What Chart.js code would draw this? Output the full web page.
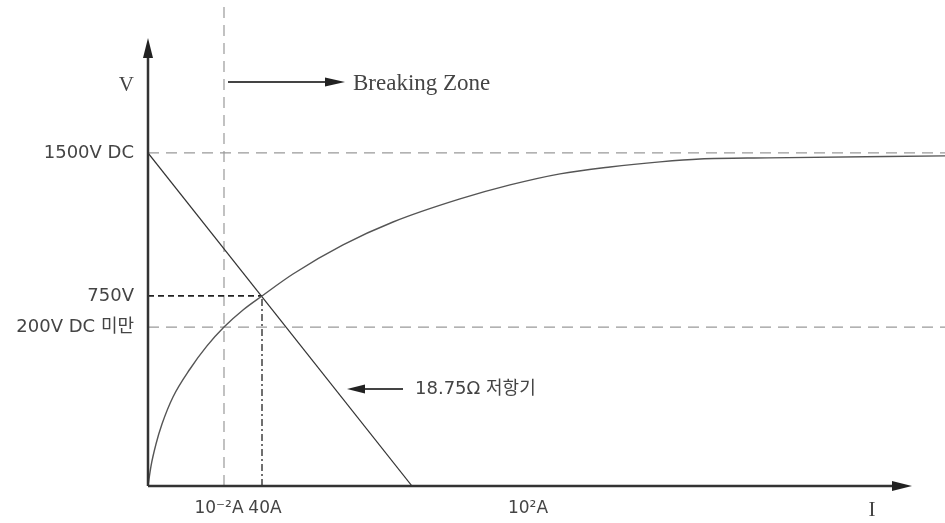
<!DOCTYPE html>
<html><head><meta charset="utf-8">
<script src="https://cdn.jsdelivr.net/npm/chart.js@4/dist/chart.umd.min.js"></script>
<style>html,body{margin:0;padding:0;background:#fff}canvas{display:block}</style>
</head><body>
<canvas id="c" width="945" height="523"></canvas>
<script>
// Schematic V-I diagram (diagram units)
const arcCurrent = [0, 3, 8, 14, 25, 42, 59, 76, 95, 114, 145, 195, 245, 312, 362, 412, 462, 512, 552, 620, 797];
const arcVoltage = [0, 90, 189, 279, 401, 527, 631, 716, 793, 856, 955, 1086, 1189, 1293, 1356, 1406, 1437, 1460, 1473, 1478, 1487];
const resistorCurrent = [0, 264];
const resistorVoltage = [1500, 0];
const yTickValues = [716, 856, 1500, 1802];
const yTickLabels = ['200V DC 미만', '750V', '1500V DC', 'V'];
const xTickValues = [71, 117, 380, 724];
const xTickLabels = ['10⁻²A', '40A', '10²A', 'I'];
const supplyVoltage = 1500, limitVoltage = 716, operVoltage = 856;
const breakCurrent = 76, operCurrent = 114;
const X_MAX = 797, Y_MAX = 2189, X_ARROW = 764, Y_ARROW = 2018;

const pts = (xs, ys) => xs.map((x, i) => ({x, y: ys[i]}));
const sans = 'DejaVu Sans, "Noto Sans CJK KR", sans-serif';
const serif = '"Liberation Serif", "DejaVu Serif", serif';

const annot = {
  id: 'annot',
  afterDatasetsDraw(chart) {
    const {ctx} = chart, xs = chart.scales.x, ys = chart.scales.y;
    const X = v => xs.getPixelForValue(v), Y = v => ys.getPixelForValue(v);
    function head(tx, ty, dx, dy, len, hw) {
      const bx = tx - dx * len, by = ty - dy * len;
      ctx.beginPath();
      ctx.moveTo(tx, ty);
      ctx.lineTo(bx - dy * hw, by + dx * hw);
      ctx.lineTo(bx + dy * hw, by - dx * hw);
      ctx.closePath(); ctx.fill();
    }
    ctx.save();
    ctx.strokeStyle = '#333'; ctx.fillStyle = '#222';
    // axes
    ctx.lineWidth = 2.5;
    ctx.beginPath(); ctx.moveTo(X(0), Y(0)); ctx.lineTo(X(0), Y(Y_ARROW) + 15); ctx.stroke();
    head(X(0), Y(Y_ARROW), 0, -1, 20, 5);
    ctx.beginPath(); ctx.moveTo(X(0), Y(0)); ctx.lineTo(X(X_ARROW) - 15, Y(0)); ctx.stroke();
    head(X(X_ARROW), Y(0), 1, 0, 20, 5);
    // Breaking zone arrow
    ctx.lineWidth = 2; ctx.strokeStyle = '#444';
    const by = Y(1820);
    ctx.beginPath(); ctx.moveTo(X(80), by); ctx.lineTo(X(185), by); ctx.stroke();
    head(X(197), by, 1, 0, 20, 4.5);
    ctx.fillStyle = '#444'; ctx.font = '23px ' + serif;
    ctx.textAlign = 'left'; ctx.textBaseline = 'middle';
    ctx.fillText('Breaking Zone', X(205), Y(1811));
    // Resistor arrow
    ctx.fillStyle = '#222';
    const ry = Y(437);
    ctx.beginPath(); ctx.moveTo(X(255), ry); ctx.lineTo(X(210), ry); ctx.stroke();
    head(X(199), ry, -1, 0, 18, 4.5);
    ctx.fillStyle = '#444'; ctx.font = '18px ' + sans;
    ctx.fillText('18.75Ω 저항기', X(267), ry);
    ctx.restore();
  }
};

new Chart(document.getElementById('c'), {
  type: 'scatter',
  data: {
    datasets: [
      {data: pts(arcCurrent, arcVoltage), showLine: true, borderColor: '#555', borderWidth: 1.4, pointRadius: 0, cubicInterpolationMode: 'monotone'},
      {data: pts(resistorCurrent, resistorVoltage), showLine: true, borderColor: '#333', borderWidth: 1.2, pointRadius: 0},
      {data: [{x: 0, y: operVoltage}, {x: operCurrent, y: operVoltage}], showLine: true, borderColor: '#222', borderWidth: 1.8, borderDash: [6, 4], pointRadius: 0},
      {data: [{x: operCurrent, y: 0}, {x: operCurrent, y: operVoltage}], showLine: true, borderColor: '#333', borderWidth: 1.4, borderDash: [7, 3, 2, 3], pointRadius: 0},
      {data: [{x: 0, y: supplyVoltage}, {x: X_MAX, y: supplyVoltage}], showLine: true, borderColor: '#999', borderWidth: 1.2, borderDash: [11, 7], pointRadius: 0},
      {data: [{x: 0, y: limitVoltage}, {x: X_MAX, y: limitVoltage}], showLine: true, borderColor: '#999', borderWidth: 1.2, borderDash: [11, 7], pointRadius: 0},
      {data: [{x: breakCurrent, y: 0}, {x: breakCurrent, y: Y_MAX}], showLine: true, borderColor: '#999', borderWidth: 1.2, borderDash: [11, 7], pointRadius: 0}
    ]
  },
  options: {
    responsive: false, animation: false,
    layout: {padding: 0},
    plugins: {legend: {display: false}, tooltip: {enabled: false}},
    scales: {
      x: {
        type: 'linear', min: 0, max: X_MAX,
        grid: {display: false, drawTicks: false}, border: {display: false},
        afterFit: s => { s.height = 37; s.paddingLeft = 0; s.paddingRight = 0; },
        afterBuildTicks: s => { s.ticks = xTickValues.map(v => ({value: v})); },
        ticks: {
          autoSkip: false, maxRotation: 0, minRotation: 0, padding: 12, color: '#444',
          font: c => (xTickLabels[c.index] === 'I' ? {family: serif, size: 21} : {family: sans, size: 17}),
          callback: (v, i) => xTickLabels[i]
        }
      },
      y: {
        type: 'linear', min: 0, max: Y_MAX,
        grid: {display: false, drawTicks: false}, border: {display: false},
        afterFit: s => { s.width = 148; s.paddingTop = 0; s.paddingBottom = 0; },
        afterBuildTicks: s => { s.ticks = yTickValues.map(v => ({value: v})); },
        ticks: {
          autoSkip: false, padding: 14, color: '#444',
          font: c => (yTickLabels[c.index] === 'V' ? {family: serif, size: 21} : {family: sans, size: 18}),
          callback: (v, i) => yTickLabels[i]
        }
      }
    }
  },
  plugins: [annot]
});
</script>
</body></html>
